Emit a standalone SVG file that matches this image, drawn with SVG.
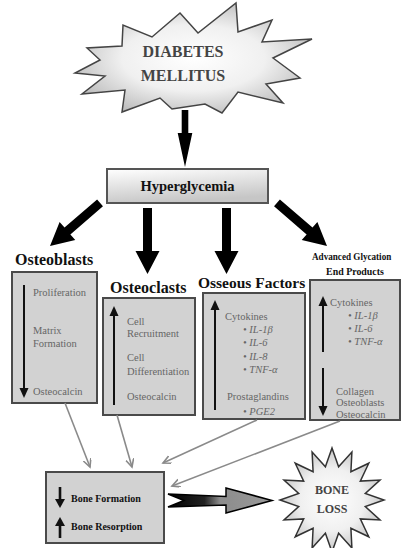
<svg xmlns="http://www.w3.org/2000/svg" width="402" height="548" viewBox="0 0 402 548">
<style>
.lbl{font-family:"Liberation Serif","Times New Roman",serif;font-weight:bold;fill:#111}
.t{font-family:"Liberation Serif","Times New Roman",serif;font-size:10.5px;fill:#666}
.ti{font-family:"Liberation Serif","Times New Roman",serif;font-size:10.5px;fill:#666;font-style:italic}
.box{fill:#d2d2d2;stroke:#4a4a4a;stroke-width:2}
.ln{stroke:#111;stroke-width:2;fill:none}
.hd{fill:#111}
.con{stroke:#8a8a8a;stroke-width:1.6;fill:none;marker-end:url(#v)}
.burst{font-family:"Liberation Serif","Times New Roman",serif;font-weight:bold;fill:#444;text-anchor:middle}
</style>
<defs>
<radialGradient id="rg" cx="50%" cy="50%" r="55%">
<stop offset="0" stop-color="#ffffff"/>
<stop offset="0.55" stop-color="#f0f0f0"/>
<stop offset="1" stop-color="#bdbdbd"/>
</radialGradient>
<linearGradient id="hg" x1="0" y1="0" x2="0.3" y2="1">
<stop offset="0" stop-color="#ffffff"/>
<stop offset="1" stop-color="#c6c6c6"/>
</linearGradient>
<linearGradient id="ag" x1="0" y1="0" x2="1" y2="0">
<stop offset="0" stop-color="#000"/>
<stop offset="0.35" stop-color="#222"/>
<stop offset="0.5" stop-color="#8c8c8c"/>
<stop offset="1" stop-color="#9a9a9a"/>
</linearGradient>
<marker id="v" markerWidth="10" markerHeight="10" refX="8" refY="4" orient="auto" markerUnits="userSpaceOnUse">
<path d="M0,0 L8,4 L0,8" fill="none" stroke="#8a8a8a" stroke-width="1.6"/>
</marker>
<path id="big" d="M-4.5,-66 L4.5,-66 L4.5,-23 L12,-23 L0,0 L-12,-23 L-4.5,-23 Z" fill="#000"/>
</defs>
<rect width="402" height="548" fill="#fff"/>

<g id="diabetes">
<polygon points="236,3 238,32 272,20 262,42 312,39 273,58 300,78 266,84 283,103 238,92 222,113 205,104 172,109 160,98 122,112 125,90 82,94 105,76 75,73 100,60 87,48 122,46 123,25 152,37 180,13 198,33" fill="url(#rg)" stroke="#444" stroke-width="1.5" stroke-linejoin="miter"/>
<text class="burst" x="183" y="57" font-size="16">DIABETES</text>
<text class="burst" x="183" y="81" font-size="16">MELLITUS</text>
</g>

<g id="hyperglycemia">
<rect x="107" y="169" width="161" height="34" fill="url(#hg)" stroke="#555" stroke-width="2"/>
<text class="lbl" x="187.5" y="191" font-size="14.5" text-anchor="middle">Hyperglycemia</text>
</g>

<g id="osteoblasts">
<text class="lbl" x="15" y="265" font-size="16">Osteoblasts</text>
<rect class="box" x="12" y="272" width="85" height="131"/>
<line class="ln" x1="24" y1="285" x2="24" y2="389"/>
<polygon class="hd" points="19.5,388 28.5,388 24,398"/>
<text class="t" x="33" y="296">Proliferation</text>
<text class="t" x="33" y="334">Matrix</text>
<text class="t" x="33" y="347">Formation</text>
<text class="t" x="33" y="395">Osteocalcin</text>
</g>

<g id="osteoclasts">
<text class="lbl" x="110" y="293" font-size="16">Osteoclasts</text>
<rect class="box" x="103" y="298" width="92" height="117"/>
<line class="ln" x1="114" y1="405" x2="114" y2="315"/>
<polygon class="hd" points="109.5,316 118.5,316 114,306"/>
<text class="t" x="127" y="325">Cell</text>
<text class="t" x="127" y="337">Recruitment</text>
<text class="t" x="127" y="361">Cell</text>
<text class="t" x="127" y="375">Differentiation</text>
<text class="t" x="127" y="400">Osteocalcin</text>
</g>

<g id="osseous-factors">
<text class="lbl" x="198" y="288" font-size="15.5">Osseous Factors</text>
<rect class="box" x="203" y="293" width="102" height="126"/>
<line class="ln" x1="215" y1="410" x2="215" y2="309"/>
<polygon class="hd" points="210.5,310 219.5,310 215,300"/>
<text class="t" x="225" y="320">Cytokines</text>
<text class="ti" x="243" y="333">• IL-1β</text>
<text class="ti" x="243" y="346">• IL-6</text>
<text class="ti" x="243" y="360">• IL-8</text>
<text class="ti" x="243" y="373">• TNF-α</text>
<text class="t" x="227" y="400">Prostaglandins</text>
<text class="ti" x="243" y="415">• PGE2</text>
</g>

<g id="age">
<text class="lbl" transform="translate(312,260) scale(0.83,1)" x="0" y="0" font-size="11">Advanced Glycation</text>
<text class="lbl" transform="translate(355,275) scale(0.9,1)" x="0" y="0" font-size="11" text-anchor="middle">End Products</text>
<rect class="box" x="310" y="280" width="90" height="140"/>
<line class="ln" x1="323" y1="352" x2="323" y2="305"/>
<polygon class="hd" points="318.5,306 327.5,306 323,296"/>
<line class="ln" x1="323" y1="368" x2="323" y2="407"/>
<polygon class="hd" points="318.5,406 327.5,406 323,416"/>
<text class="t" x="330" y="306">Cytokines</text>
<text class="ti" x="348" y="319">• IL-1β</text>
<text class="ti" x="348" y="332">• IL-6</text>
<text class="ti" x="348" y="345">• TNF-α</text>
<text class="t" x="336" y="395">Collagen</text>
<text class="t" x="336" y="406">Osteoblasts</text>
<text class="t" x="336" y="418">Osteocalcin</text>
</g>

<g id="bone-effect">
<rect class="box" x="46" y="472" width="118" height="71" stroke-width="2.5"/>
<rect x="58.7" y="487" width="2.6" height="13" fill="#111"/>
<polygon class="hd" points="55,499 65,499 60,508"/>
<rect x="58.7" y="525" width="2.6" height="13" fill="#111"/>
<polygon class="hd" points="55,526 65,526 60,517"/>
<text class="lbl" x="71" y="502" font-size="10">Bone Formation</text>
<text class="lbl" x="71" y="530" font-size="10">Bone Resorption</text>
</g>

<g id="bone-loss">
<polygon transform="translate(332,500)" points="0,-52 6.6,-33.3 19.9,-48 18.9,-28.3 36.8,-36.8 28.3,-18.9 48,-19.9 33.3,-6.6 52,0 33.3,6.6 48,19.9 28.3,18.9 36.8,36.8 18.9,28.3 19.9,48 6.6,33.3 0,52 -6.6,33.3 -19.9,48 -18.9,28.3 -36.8,36.8 -28.3,18.9 -48,19.9 -33.3,6.6 -52,0 -33.3,-6.6 -48,-19.9 -28.3,-18.9 -36.8,-36.8 -18.9,-28.3 -19.9,-48 -6.6,-33.3" fill="url(#rg)" stroke="#333" stroke-width="1.5"/>
<text class="burst" x="332" y="494" font-size="12">BONE</text>
<text class="burst" x="332" y="513" font-size="12">LOSS</text>
</g>

<g id="connectors">
<path d="M181.7,110 h6.6 v23 h4 l-7.3,34 l-7.3,-34 h4 z" fill="#000"/>
<use href="#big" transform="translate(50,246) rotate(49.3)"/>
<use href="#big" transform="translate(147.5,274)"/>
<use href="#big" transform="translate(226.5,274)"/>
<use href="#big" transform="translate(327,246) rotate(-49.3)"/>
<line class="con" x1="65" y1="403" x2="90" y2="467"/>
<line class="con" x1="117" y1="415" x2="132" y2="467"/>
<line class="con" x1="257" y1="420" x2="163" y2="463"/>
<line class="con" x1="340" y1="421" x2="172" y2="486"/>
<polygon points="168,494 226,496.5 226,488 272,500.5 226,513 226,505 168,507 184,500.5" fill="url(#ag)" stroke="#000" stroke-width="1.5" stroke-linejoin="miter"/>
</g>
</svg>
